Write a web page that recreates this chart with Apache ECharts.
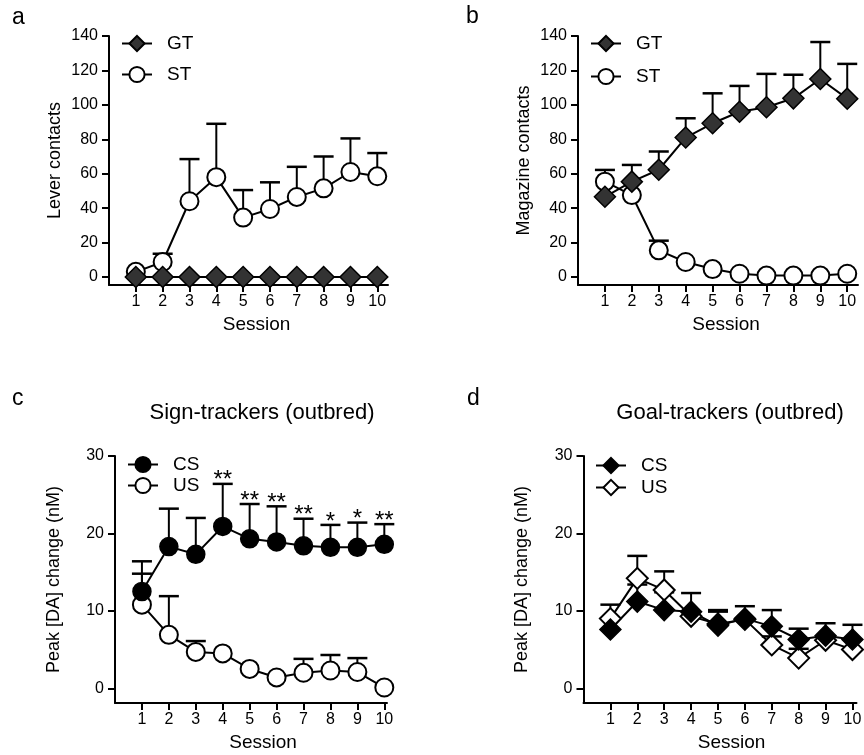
<!DOCTYPE html>
<html>
<head>
<meta charset="utf-8">
<script src="https://cdn.jsdelivr.net/npm/echarts@6/dist/echarts.min.js"></script>
<style>
html,body{margin:0;padding:0;background:#fff;}
#chart{width:864px;height:755px;}
</style>
</head>
<body>
<div id="chart"></div>
<script>
// ---------- data ----------
const sessions = [1, 2, 3, 4, 5, 6, 7, 8, 9, 10];
const leverTicks = [0, 20, 40, 60, 80, 100, 120, 140];
const daTicks = [0, 10, 20, 30];

// panel a : lever contacts
const aGT    = [0, 0, 0, 0, 0, 0, 0, 0, 0, 0];
const aGTErr = [null, null, null, null, null, null, null, null, null, null];
const aST    = [3, 8.7, 44, 58, 34.5, 39.5, 46.5, 51.5, 61, 58.5];
const aSTErr = [null, 13.5, 68.5, 89, 50.5, 55, 64, 70, 80.5, 72];

// panel b : magazine contacts
const bGT    = [46.6, 55.4, 62.3, 81, 89.3, 96, 98.6, 103.8, 115, 103.6];
const bGTErr = [null, 65.1, 72.9, 92.2, 106.7, 111, 118, 117.5, 136.5, 123.8];
const bST    = [55.4, 47.6, 15.5, 8.7, 4.6, 1.9, 0.8, 0.8, 0.8, 1.9];
const bSTErr = [62.2, null, 21.1, null, null, null, null, null, null, null];

// panel c : sign-trackers
const cCS    = [12.5, 18.3, 17.3, 20.9, 19.3, 18.9, 18.4, 18.2, 18.2, 18.6];
const cCSErr = [16.4, 23.2, 22.0, 26.4, 23.8, 23.5, 21.9, 21.1, 21.4, 21.2];
const cUS    = [10.8, 6.9, 4.7, 4.5, 2.5, 1.4, 2.0, 2.3, 2.1, 0.1];
const cUSErr = [14.8, 11.9, 6.1, null, null, null, 3.8, 4.3, 3.9, null];
const cStars = ['', '', '', '**', '**', '**', '**', '*', '*', '**'];

// panel d : goal-trackers
const dCS    = [7.6, 11.2, 10.1, 9.9, 8.1, 9.0, 8.0, 6.3, 6.8, 6.3];
const dCSErr = [null, 13.4, 12.4, 12.3, 10.1, 10.6, 10.1, 7.7, 8.4, 8.2];
const dUS    = [9.0, 14.2, 12.7, 9.3, 8.3, 8.9, 5.6, 3.9, 6.2, 5.0];
const dUSErr = [10.8, 17.1, 15.1, null, 9.9, null, 6.7, 5.1, null, null];

// ---------- helpers ----------
const FONT = "'Liberation Sans', Arial, Helvetica, sans-serif";
const pairs = (ys) => sessions.map((s, i) => [s, ys[i]]);
const errData = (ys, es) => sessions.map((s, i) => [s, ys[i], es[i]]).filter(d => d[2] !== null);

function errRender(stars) {
  return function (params, api) {
    const x = api.value(0), y = api.value(1), e = api.value(2);
    const p0 = api.coord([x, y]);
    const p1 = api.coord([x, e]);
    const children = [
      { type: 'line', shape: { x1: p0[0], y1: p0[1], x2: p1[0], y2: p1[1] }, style: { stroke: '#000', lineWidth: 2 } },
      { type: 'line', shape: { x1: p1[0] - 10, y1: p1[1], x2: p1[0] + 10, y2: p1[1] }, style: { stroke: '#000', lineWidth: 2.5 } }
    ];
    if (stars) {
      const t = stars[x - 1];
      if (t) children.push({ type: 'text', x: p1[0], y: p1[1] - 3,
        style: { text: t, fill: '#000', fontSize: 24, fontFamily: FONT, align: 'center', verticalAlign: 'middle' } });
    }
    return { type: 'group', children };
  };
}

function errSeries(idx, ys, es, stars) {
  return { type: 'custom', xAxisIndex: idx, yAxisIndex: idx, z: 1, silent: true,
    renderItem: errRender(stars), data: errData(ys, es), animation: false };
}

function lineSeries(idx, name, ys, symbol, size, fill, bw) {
  return { type: 'line', name, xAxisIndex: idx, yAxisIndex: idx, z: 3, data: pairs(ys),
    symbol, symbolSize: size, showSymbol: true, animation: false,
    lineStyle: { color: '#000', width: 2 },
    itemStyle: { color: fill, borderColor: '#000', borderWidth: bw, opacity: 1 },
    emphasis: { disabled: true } };
}

const grids = [
  { left: 109, top: 36, width: 279, height: 249 },
  { left: 578, top: 36, width: 280, height: 249 },
  { left: 115, top: 456, width: 272, height: 247 },
  { left: 583.5, top: 456, width: 273, height: 247 }
].map(g => Object.assign(g, { outerBoundsMode: 'none', containLabel: false }));

const xMax = [10.4, 10.4, 10.1, 10.15];
const namePad = [16, 16, 24, 23];
const xAxes = xMax.map((m, i) => ({
  type: 'value', gridIndex: i, min: 0, max: m,
  name: 'Session', nameLocation: 'middle', nameGap: 30,
  nameTextStyle: { fontSize: 19, color: '#000', fontFamily: FONT, padding: [0, 0, 0, namePad[i]] },
  axisLine: { show: true, onZero: false, lineStyle: { color: '#000', width: 2 } },
  axisTick: { show: true, length: 7, lineStyle: { color: '#000', width: 2 }, customValues: sessions },
  axisLabel: { show: true, fontSize: 16, color: '#000', fontFamily: FONT, margin: 9, customValues: sessions },
  splitLine: { show: false }
}));

const yNames = ['Lever contacts', 'Magazine contacts', 'Peak [DA] change (nM)', 'Peak [DA] change (nM)'];
const yMin = [-4.65, -4.65, -1.9, -1.9];
const yMax = [140, 140, 30, 30];
const yTicks = [leverTicks, leverTicks, daTicks, daTicks];
const yGap = [45, 45, 52, 52];
const yAxes = yNames.map((n, i) => ({
  type: 'value', gridIndex: i, min: yMin[i], max: yMax[i],
  name: n, nameLocation: 'middle', nameGap: yGap[i],
  nameTextStyle: { fontSize: 18, color: '#000', fontFamily: FONT },
  axisLine: { show: true, onZero: false, lineStyle: { color: '#000', width: 2 } },
  axisTick: { show: true, length: 7, lineStyle: { color: '#000', width: 2 }, customValues: yTicks[i] },
  axisLabel: { show: true, fontSize: 16, color: '#000', fontFamily: FONT, margin: 11, customValues: yTicks[i] },
  splitLine: { show: false }
}));

function legend(left, top, names, gap) {
  return { left, top, orient: 'vertical', padding: 0, itemWidth: 30, itemHeight: 19, itemGap: gap,
    selectedMode: false, data: names, formatter: n => n.split('|')[1],
    textStyle: { fontSize: 19, color: '#000', fontFamily: FONT, padding: [0, 0, 0, 10] } };
}

const textEl = (t, x, y, size, align) => ({ type: 'text', x, y,
  style: { text: t, fill: '#000', fontSize: size, fontFamily: FONT, align: align || 'left', verticalAlign: 'middle' } });

const option = {
  backgroundColor: '#fff',
  animation: false,
  grid: grids,
  xAxis: xAxes,
  yAxis: yAxes,
  legend: [
    legend(121, 34, ['a|GT', 'a|ST'], 12),
    legend(590, 34, ['b|GT', 'b|ST'], 14),
    legend(127, 455, ['c|CS', 'c|US'], 2),
    legend(595, 456, ['d|CS', 'd|US'], 3)
  ],
  graphic: [
    textEl('a', 12, 18, 23),
    textEl('b', 466, 17, 23),
    textEl('c', 12, 399, 23),
    textEl('d', 467, 399, 23),
    textEl('Sign-trackers (outbred)', 262, 413, 22, 'center'),
    textEl('Goal-trackers (outbred)', 730, 413, 22, 'center')
  ],
  series: [
    errSeries(0, aST, aSTErr), errSeries(0, aGT, aGTErr),
    lineSeries(0, 'a|ST', aST, 'circle', 18, '#fff', 2),
    lineSeries(0, 'a|GT', aGT, 'diamond', 21, '#333', 1.5),

    errSeries(1, bGT, bGTErr), errSeries(1, bST, bSTErr),
    lineSeries(1, 'b|ST', bST, 'circle', 18, '#fff', 2),
    lineSeries(1, 'b|GT', bGT, 'diamond', 21, '#333', 1.5),

    errSeries(2, cCS, cCSErr, cStars), errSeries(2, cUS, cUSErr),
    lineSeries(2, 'c|US', cUS, 'circle', 18, '#fff', 2),
    lineSeries(2, 'c|CS', cCS, 'circle', 18, '#000', 1.5),

    errSeries(3, dCS, dCSErr), errSeries(3, dUS, dUSErr),
    lineSeries(3, 'd|US', dUS, 'diamond', 21, '#fff', 2),
    lineSeries(3, 'd|CS', dCS, 'diamond', 21, '#000', 1.5)
  ]
};

const chart = echarts.init(document.getElementById('chart'), null, { renderer: 'canvas' });
chart.setOption(option);
</script>
</body>
</html>
